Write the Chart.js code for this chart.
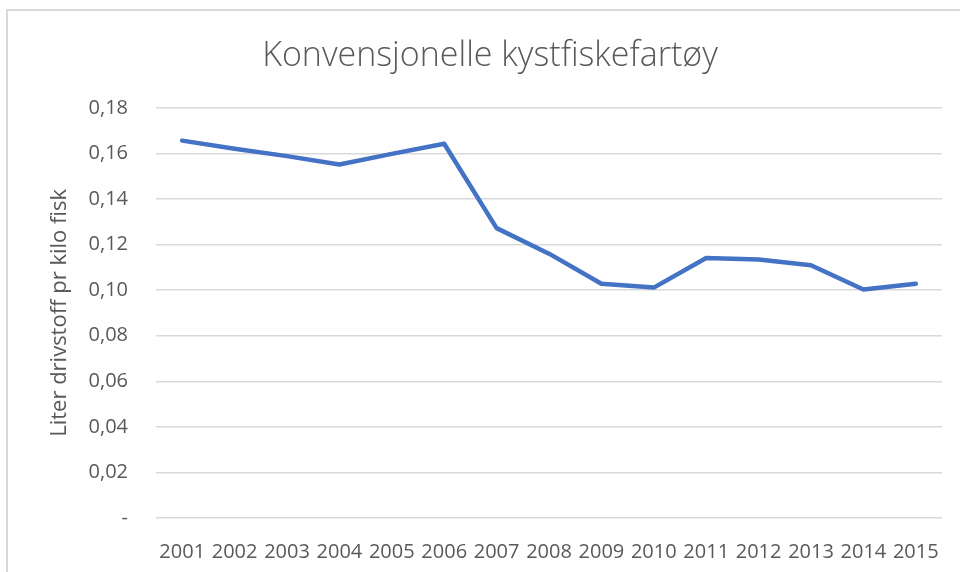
<!DOCTYPE html>
<html>
<head>
<meta charset="utf-8">
<script src="https://cdn.jsdelivr.net/npm/chart.js@4/dist/chart.umd.min.js"></script>
<style>
  body { margin: 0; background: #fff; }
  #wrap { position: relative; width: 960px; height: 572px; }
  #frame { position: absolute; left: 6px; top: 9px; width: 980px; height: 600px;
           border-left: 2px solid #d9d9d9; border-top: 2px solid #d9d9d9; }
  canvas { position: absolute; left: 0; top: 0; }
</style>
</head>
<body>
<div id="wrap">
  <div id="frame"></div>
  <canvas id="graph" width="960" height="572"></canvas>
</div>
<script>
const years = ["2001", "2002", "2003", "2004", "2005", "2006", "2007", "2008",
  "2009", "2010", "2011", "2012", "2013", "2014", "2015"];
const fuelPerKilo = [0.1656, 0.1620, 0.1588, 0.1551, 0.1598, 0.1642, 0.1272, 0.1160,
  0.1028, 0.1011, 0.1141, 0.1134, 0.1109, 0.1003, 0.1028];
const chartTitle = "Konvensjonelle kystfiskefartøy";
const yTitle = "Liter drivstoff pr kilo fisk";

const textColor = "#595959";
Chart.defaults.font.family = "'Open Sans', sans-serif";
Chart.defaults.color = textColor;

let graph = document.getElementById("graph").getContext("2d");

new Chart(graph, {
  type: "line",
  data: {
    labels: years,
    datasets: [
      {
        label: "Konvensjonelle kystfiskefartøy",
        data: fuelPerKilo,
        borderColor: "#4472C4",
        backgroundColor: "transparent",
        borderWidth: 4.5,
        pointRadius: 0,
        tension: 0,
        borderJoinStyle: "round",
        borderCapStyle: "round",
      },
    ],
  },
  options: {
    responsive: false,
    animation: false,
    layout: { padding: { left: 38, right: 18, top: 0, bottom: 0 } },
    plugins: {
      legend: { display: false },
      tooltip: { enabled: false },
      title: {
        display: true,
        text: chartTitle,
        color: textColor,
        font: { size: 34, weight: "300" },
        padding: { top: 36, bottom: 31 },
      },
    },
    scales: {
      x: {
        offset: true,
        grid: { display: false },
        border: { display: false },
        ticks: { font: { size: 20 }, padding: 14, maxRotation: 0, autoSkip: false },
        afterFit: (scale) => { scale.height = 54; },
      },
      y: {
        min: 0,
        max: 0.18,
        grid: { color: "#d9d9d9", lineWidth: 1.5, drawTicks: false },
        border: { display: false },
        ticks: {
          stepSize: 0.02,
          padding: 28,
          font: { size: 20 },
          callback: (v) => (Math.abs(v) < 1e-9 ? "-" : v.toFixed(2).replace(".", ",")),
        },
        title: {
          display: true,
          text: yTitle,
          color: textColor,
          font: { size: 22 },
          padding: { top: 9, bottom: 0 },
        },
        afterFit: (scale) => { scale.width = 118; },
      },
    },
  },
});
</script>
</body>
</html>
